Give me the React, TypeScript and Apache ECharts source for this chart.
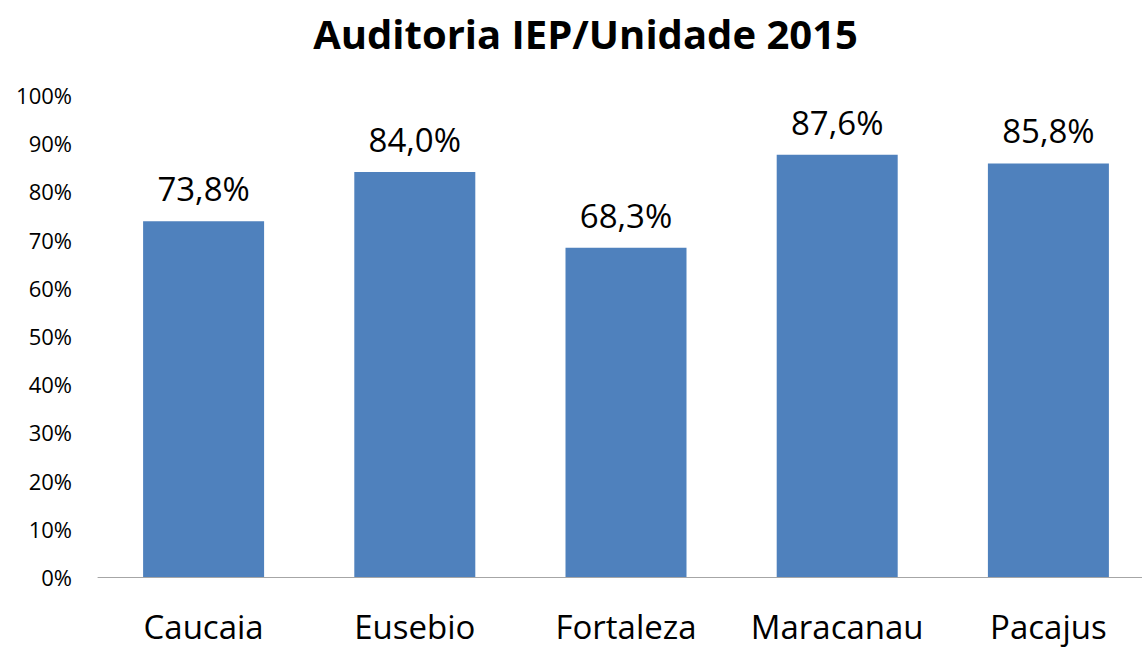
import React, { useEffect, useRef } from "react";
import * as echarts from "echarts";

const titleText = "Auditoria IEP/Unidade 2015";
const categories = ["Caucaia", "Eusebio", "Fortaleza", "Maracanau", "Pacajus"];
const values = [73.8, 84.0, 68.3, 87.6, 85.8];
const yMin = 0;
const yMax = 100;
const yInterval = 10;

export default function App() {
  const ref = useRef<HTMLDivElement>(null);
  useEffect(() => {
    if (!ref.current) return;
    const chart = echarts.init(ref.current, undefined, { renderer: "svg" });
    const font = "'Open Sans', sans-serif";
    chart.setOption({
      animation: false,
      backgroundColor: "#ffffff",
      title: {
        text: titleText,
        left: "center",
        top: 8,
        textStyle: { fontFamily: font, fontSize: 40, fontWeight: "bold", color: "#000000" },
      },
      grid: { left: 98, top: 95, right: 17, height: 482, containLabel: false },
      xAxis: {
        type: "category",
        data: categories,
        axisLine: { show: true, lineStyle: { color: "#A6A6A6", width: 1 } },
        axisTick: { show: false },
        axisLabel: {
          color: "#000000",
          fontFamily: font,
          fontSize: 33,
          margin: 32,
          interval: 0,
          lineHeight: 34,
        },
      },
      yAxis: {
        type: "value",
        min: yMin,
        max: yMax,
        interval: yInterval,
        axisLine: { show: false },
        axisTick: { show: false },
        splitLine: { show: false },
        axisLabel: {
          color: "#000000",
          fontFamily: font,
          fontSize: 22,
          margin: 26,
          formatter: (v: number) => v + "%",
        },
      },
      series: [
        {
          type: "bar",
          data: values,
          barWidth: 121,
          itemStyle: { color: "#4F81BD" },
          label: {
            show: true,
            position: "top",
            distance: 16,
            color: "#000000",
            fontFamily: font,
            fontSize: 33,
            formatter: (p: any) => p.value.toFixed(1).replace(".", ",") + "%",
          },
        },
      ],
    });
    return () => chart.dispose();
  }, []);
  return (
    <div
      style={{
        position: "fixed",
        left: 0,
        top: 0,
        width: 1142,
        height: 648,
        overflow: "hidden",
        background: "#ffffff",
      }}
    >
      <div ref={ref} style={{ width: 1171, height: 648 }} />
    </div>
  );
}
